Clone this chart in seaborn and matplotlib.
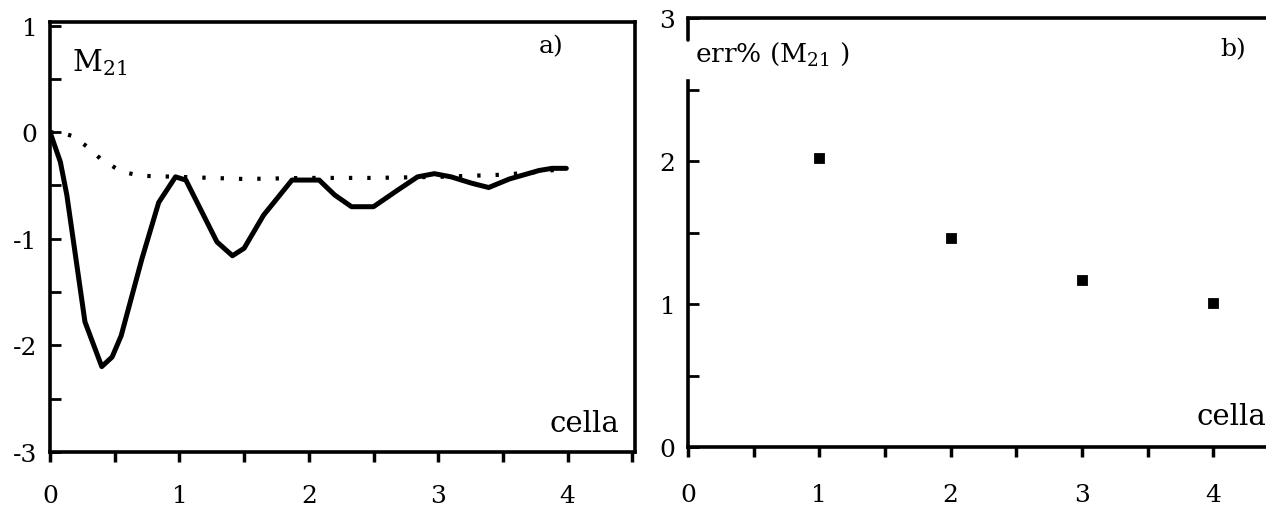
import numpy as np
import pandas as pd
import matplotlib
matplotlib.use("Agg")
import matplotlib.pyplot as plt
from matplotlib.ticker import MultipleLocator
import seaborn as sns

# pannello a): M21 lungo la cella (linea continua e punteggiata)
x_solid = [0, 0.08, 0.13, 0.27, 0.40, 0.48, 0.55, 0.71, 0.84, 0.97, 1.05, 1.29, 1.41,
           1.50, 1.65, 1.87, 2.08, 2.20, 2.33, 2.50, 2.68, 2.84, 2.97, 3.10, 3.26,
           3.39, 3.55, 3.78, 3.88, 3.99]
y_solid = [0, -0.28, -0.59, -1.78, -2.20, -2.11, -1.91, -1.19, -0.66, -0.42, -0.45,
           -1.03, -1.16, -1.09, -0.78, -0.45, -0.45, -0.59, -0.70, -0.70, -0.55,
           -0.42, -0.39, -0.42, -0.48, -0.52, -0.44, -0.36, -0.34, -0.34]
x_dot = [0, 0.10, 0.18, 0.29, 0.39, 0.55, 0.70, 1.0, 1.5, 2.0, 2.5, 3.0, 3.5, 3.8, 4.0]
y_dot = [0, -0.01, -0.04, -0.14, -0.25, -0.37, -0.41, -0.42, -0.44, -0.43, -0.43,
         -0.42, -0.40, -0.37, -0.34]

# pannello b): errore percentuale
celle = [1, 2, 3, 4]
err = [2.02, 1.46, 1.17, 1.01]

sns.set_style("ticks")
plt.rcParams['font.family'] = ['DejaVu Serif']
plt.rcParams['mathtext.fontset'] = 'dejavuserif'
plt.rcParams['axes.unicode_minus'] = False
plt.rcParams['axes.edgecolor'] = 'black'
plt.rcParams['xtick.color'] = 'black'
plt.rcParams['ytick.color'] = 'black'
plt.rcParams['text.color'] = 'black'

fig = plt.figure(figsize=(12.66, 5.06), dpi=100)
ax1 = fig.add_axes([0.0395, 0.105, 0.462, 0.85])
ax2 = fig.add_axes([0.5434, 0.1146, 0.4566, 0.8474])

df_s = pd.DataFrame({"x": x_solid, "y": y_solid})
df_d = pd.DataFrame({"x": x_dot, "y": y_dot})
sns.lineplot(data=df_s, x="x", y="y", ax=ax1, color="black", linewidth=3.6,
             sort=False, estimator=None)
sns.lineplot(data=df_d, x="x", y="y", ax=ax1, color="black", linewidth=3,
             linestyle=(0, (0.8, 3.6)), sort=False, estimator=None)
ax1.set_xlim(0, 4.52)
ax1.set_ylim(-3, 1.035)

df_e = pd.DataFrame({"cella": celle, "err": err})
sns.scatterplot(data=df_e, x="cella", y="err", ax=ax2, color="black", marker="s",
                s=55, edgecolor="black")
ax2.set_xlim(0, 4.4)
ax2.set_ylim(0, 3)

for ax, xpad in ((ax1, 16), (ax2, 19)):
    ax.set_xlabel("")
    ax.set_ylabel("")
    ax.xaxis.set_major_locator(MultipleLocator(1))
    ax.xaxis.set_minor_locator(MultipleLocator(0.5))
    ax.yaxis.set_major_locator(MultipleLocator(1))
    ax.yaxis.set_minor_locator(MultipleLocator(0.5))
    ax.tick_params(axis="x", which="both", direction="out", length=7, width=2.5,
                   pad=xpad, labelsize=18)
    ax.tick_params(axis="y", which="both", direction="in", length=8, width=2,
                   pad=9, labelsize=18)
    for s in ax.spines.values():
        s.set_linewidth(2.6)

ax1.set_xticks([0, 1, 2, 3, 4])
ax2.set_xticks([0, 1, 2, 3, 4])
ax2.spines["right"].set_visible(False)
ax2.spines["left"].set_bounds(0, 2.56)
ax2.plot([0, 0], [2.85, 3.0], color="black", linewidth=2.6, clip_on=False)

ax1.text(0.17, 0.58, r"M$_{21}$", fontsize=21)
ax1.text(3.78, 0.75, "a)", fontsize=18)
ax1.text(4.4, -2.8, "cella", fontsize=21, ha="right")

ax2.text(0.05, 2.70, r"err% (M$_{21}$ )", fontsize=19)
ax2.text(4.05, 2.74, "b)", fontsize=18)
ax2.text(4.4, 0.16, "cella", fontsize=21, ha="right")

fig.savefig("out.png", dpi=100)
